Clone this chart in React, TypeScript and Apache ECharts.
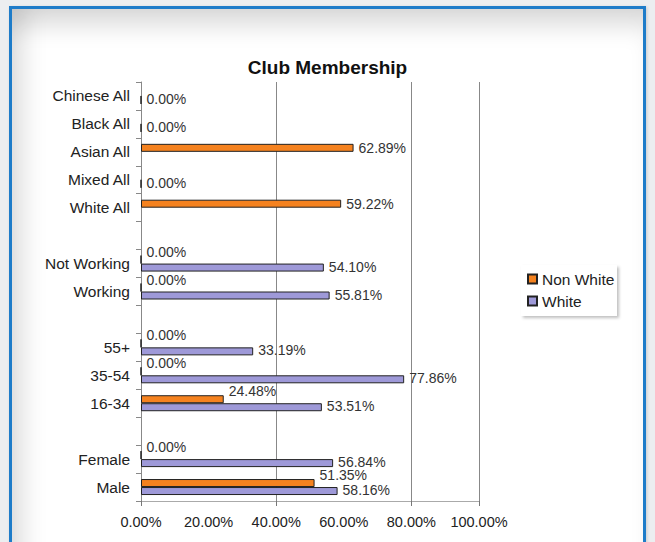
import React, { useEffect, useRef } from "react";
import * as echarts from "echarts";

const categories = [
  "Chinese All", "Black All", "Asian All", "Mixed All", "White All", " ",
  "Not Working", "Working", "  ",
  "55+", "35-54", "16-34", "   ",
  "Female", "Male",
];
const nonWhite: (number | null)[] = [null, null, 62.89, null, 59.22, null, 0, 0, null, 0, 0, 24.48, null, 0, 51.35];
const white: (number | null)[] = [0, 0, null, 0, null, null, 54.1, 55.81, null, 33.19, 77.86, 53.51, null, 56.84, 58.16];
const xMin = 0;
const xMax = 100;
const xInterval = 20;
const tickValues = [0, 40, 80, 100];
const gridLineValues = [40, 80, 100];

const FONT = "'Liberation Sans', Arial, sans-serif";
const ORANGE = "#F5821F";
const PURPLE = "#9E99D8";

export default function App() {
  const ref = useRef<HTMLDivElement>(null);
  useEffect(() => {
    if (!ref.current) return;
    const chart = echarts.init(ref.current, undefined, { renderer: "svg" });
    const fmt = (v: number) => v.toFixed(2) + "%";
    const nonWhiteData = nonWhite.map((v, i) =>
      v === null
        ? null
        : { value: v, label: { offset: [0, white[i] === null ? 0 : -8] } }
    );
    const labelCommon = {
      show: true,
      position: "right",
      distance: 5,
      fontSize: 14,
      fontFamily: FONT,
      color: "#333",
      formatter: (p: any) => fmt(p.value),
    };
    chart.setOption({
      animation: false,
      backgroundColor: "transparent",
      title: {
        text: "Club Membership",
        left: "center",
        top: 53,
        textStyle: { fontSize: 19, fontWeight: "bold", fontFamily: FONT, color: "#111" },
      },
      legend: {
        orient: "vertical",
        left: 527,
        top: 271,
        padding: 0,
        itemWidth: 9,
        itemHeight: 9,
        itemGap: 6,
        icon: "rect",
        textStyle: { fontSize: 15.5, fontFamily: FONT, color: "#222" },
        data: ["Non White", "White"],
        z: 10,
      },
      graphic: [
        {
          type: "rect",
          shape: { x: 521, y: 265, width: 96, height: 51 },
          style: {
            fill: "#fff",
            shadowBlur: 3,
            shadowOffsetX: 2,
            shadowOffsetY: 2,
            shadowColor: "rgba(0,0,0,0.25)",
          },
          z: 1,
          silent: true,
        },
      ],
      grid: { left: 141, right: 176, top: 82, bottom: 41, containLabel: false },
      xAxis: {
        type: "value",
        min: xMin,
        max: xMax,
        interval: xInterval,
        axisLine: { show: true, lineStyle: { color: "#aaa", width: 1 } },
        axisTick: { show: true, customValues: tickValues, length: 5, lineStyle: { color: "#777" } },
        splitLine: { show: false },
        axisLabel: {
          formatter: (v: number) => fmt(v),
          fontSize: 14.5,
          fontFamily: FONT,
          color: "#222",
          margin: 13,
        },
      },
      yAxis: {
        type: "category",
        inverse: true,
        data: categories,
        axisLine: { show: true, lineStyle: { color: "#888", width: 1 } },
        axisTick: { show: true, inside: false, length: 5, lineStyle: { color: "#888" } },
        axisLabel: { fontSize: 15.5, fontFamily: FONT, color: "#222", margin: 11 },
        splitLine: { show: false },
      },
      series: [
        {
          name: "Non White",
          type: "bar",
          data: nonWhiteData,
          barWidth: 8,
          barGap: "0%",
          itemStyle: { color: ORANGE, borderColor: "#222", borderWidth: 1 },
          label: labelCommon,
          markLine: {
            silent: true,
            symbol: "none",
            label: { show: false },
            lineStyle: { color: "#888", width: 1, type: "solid" },
            data: gridLineValues.map((v) => ({ xAxis: v })),
            z: 0,
          },
        },
        {
          name: "White",
          type: "bar",
          data: white,
          barWidth: 8,
          barGap: "0%",
          itemStyle: { color: PURPLE, borderColor: "#222", borderWidth: 1 },
          label: { ...labelCommon, offset: [0, -1] },
        },
      ],
    });
    return () => chart.dispose();
  }, []);

  return (
    <div style={{ position: "fixed", left: 0, top: 0, width: 655, height: 542, background: "#eceef0", overflow: "hidden" }}>
      <div
        style={{
          position: "absolute",
          left: 9,
          top: 6,
          width: 637,
          height: 600,
          boxSizing: "border-box",
          border: "3px solid #1e7cc9",
          background: "#fff",
          boxShadow:
            "inset 0 28px 24px -12px rgba(0,0,0,0.15), inset 26px 0 24px -14px rgba(0,0,0,0.12), 1px 1px 3px rgba(0,0,0,0.15)",
        }}
      />
      <div ref={ref} style={{ position: "absolute", left: 0, top: 0, width: 655, height: 542 }} />
    </div>
  );
}
